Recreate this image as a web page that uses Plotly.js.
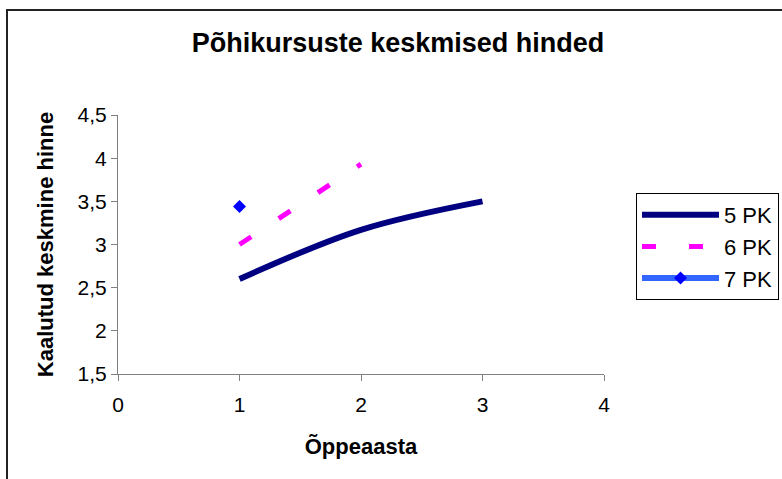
<!DOCTYPE html>
<html>
<head>
<meta charset="utf-8">
<script src="https://cdn.plot.ly/plotly-3.0.1.min.js"></script>
<style>
  html, body { margin: 0; padding: 0; background: #fff; }
  #chart { width: 782px; height: 479px; position: relative; }
  #frame { position: absolute; left: 6px; top: 9px; width: 800px; height: 500px;
           border: 2px solid #222; pointer-events: none; z-index: 5; }
</style>
</head>
<body>
<div id="chart"></div>
<div id="frame"></div>
<script>
// Data
const seriesNames = ["5 PK", "6 PK", "7 PK"];
const x5 = [1, 2, 3];
const y5 = [2.6, 3.17, 3.5];
const x6 = [1, 2];
const y6 = [3.0, 3.93];
const x7 = [1];
const y7 = [3.44];
const xTickVals = [0, 1, 2, 3, 4];
const xTickText = ["0", "1", "2", "3", "4"];
const yTickVals = [1.5, 2, 2.5, 3, 3.5, 4, 4.5];
const yTickText = ["1,5", "2", "2,5", "3", "3,5", "4", "4,5"];

const FONT = "Arial, 'Liberation Sans', sans-serif";

const traces = [
  { x: x5, y: y5, name: seriesNames[0], type: "scatter", mode: "lines",
    line: { color: "#000080", width: 6, shape: "spline", smoothing: 1 },
    legendgroup: "a" },
  { x: x6, y: y6, name: seriesNames[1], type: "scatter", mode: "lines",
    line: { color: "#FF00FF", width: 5, dash: "14px,33px" },
    legendgroup: "b" },
  { x: x7, y: y7, name: seriesNames[2], type: "scatter", mode: "lines+markers",
    line: { color: "#3366FF", width: 6 },
    marker: { symbol: "diamond", color: "#0000FF", size: 10 },
    legendgroup: "c" }
];

const axisCommon = {
  showgrid: false, zeroline: false, showline: true,
  linecolor: "#808080", linewidth: 1,
  ticks: "outside", ticklen: 6, tickcolor: "#808080", tickwidth: 1,
  tickfont: { family: FONT, size: 21, color: "#000" },
  tickmode: "array", fixedrange: true
};

const layout = {
  width: 782, height: 479,
  margin: { l: 118, r: 178, t: 115, b: 105, autoexpand: false },
  paper_bgcolor: "#fff", plot_bgcolor: "#fff",
  separators: ", ",
  title: {
    text: "<b>Põhikursuste keskmised hinded</b>",
    font: { family: FONT, size: 27, color: "#000" },
    xref: "container", x: 398 / 782, xanchor: "center",
    yref: "container", y: 1 - 43 / 479, yanchor: "middle"
  },
  xaxis: Object.assign({}, axisCommon, {
    range: [0, 4], tickvals: xTickVals, ticktext: xTickText,
    ticklabelstandoff: 6,
    title: { text: "<b>Õppeaasta</b>", font: { family: FONT, size: 22, color: "#000" }, standoff: 23 }
  }),
  yaxis: Object.assign({}, axisCommon, {
    range: [1.5, 4.5], tickvals: yTickVals, ticktext: yTickText,
    title: { text: "<b>Kaalutud keskmine hinne</b>", font: { family: FONT, size: 22, color: "#000" }, standoff: 17 }
  }),
  showlegend: true,
  legend: {
    xref: "container", x: 636 / 782, xanchor: "left",
    yref: "container", y: 1 - 193 / 479, yanchor: "top",
    bgcolor: "#fff", bordercolor: "#000", borderwidth: 1,
    font: { family: FONT, size: 22, color: "#000" },
    itemwidth: 77, tracegroupgap: 0
  }
};

Plotly.newPlot("chart", traces, layout, { displayModeBar: false, staticPlot: true });
</script>
</body>
</html>
